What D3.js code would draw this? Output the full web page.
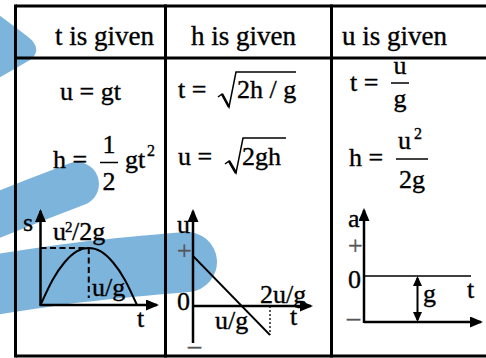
<!DOCTYPE html>
<html>
<head>
<meta charset="utf-8">
<script src="https://cdn.jsdelivr.net/npm/d3@7"></script>
<style>
  body { margin: 0; background: #fff; }
  svg { display: block; }
</style>
</head>
<body>
<svg id="chart"></svg>
<script>
//================ DATA =========================================
const headers = ['t is given', 'h is given', 'u is given'];

// s-t curve : t in units of u/g, s in units of u^2/2g
const sTimes  = [0, 0.25, 0.5, 0.75, 1, 1.25, 1.5, 1.75, 2];
const sValues = [0, 0.44, 0.75, 0.94, 1, 0.94, 0.75, 0.44, 0];

// u-t line as sketched (t in u/g, u in units of u)
const uTimes  = [0, 1.54];
const uValues = [1, -0.58];

// a-t : reference level and the constant -g level
const aLevels = [0, -1];

//================ LAYOUT =======================================
const width = 486, height = 358;
const colX = [15.5, 165.5, 331.5, 492];
const rowY = [6, 58, 356];
const blue = '#7db4dc';
const serif = 'Liberation Serif';

const svg = d3.select('#chart').attr('width', width).attr('height', height);
svg.append('rect').attr('width', width).attr('height', height).attr('fill', '#fff');

//-------- arrow markers --------
const defs = svg.append('defs');
function marker(id, len, w) {
  defs.append('marker')
      .attr('id', id)
      .attr('markerUnits', 'userSpaceOnUse')
      .attr('markerWidth', len).attr('markerHeight', w)
      .attr('refX', len - 2).attr('refY', w / 2)
      .attr('orient', 'auto-start-reverse')
    .append('path')
      .attr('d', `M0,0L${len},${w / 2}L0,${w}Z`)
      .attr('fill', '#000');
}
marker('arrow', 13, 11);
marker('small', 10, 9);

//-------- blue highlighter strokes (behind everything) --------
const hl = svg.append('g');
hl.append('path')
    .attr('d', 'M-5,12 L27,36 Q44,49 30,60 L-5,80 Z')
    .attr('fill', blue);
hl.append('path')
    .attr('d', d3.line().curve(d3.curveBasis)([[-15, 220], [30, 202], [77, 184]]))
    .attr('fill', 'none').attr('stroke', blue)
    .attr('stroke-width', 44).attr('stroke-linecap', 'round');
hl.append('path')
    .attr('d', d3.line().curve(d3.curveBasis)([[-25, 288], [80, 271], [187, 262]]))
    .attr('fill', 'none').attr('stroke', blue)
    .attr('stroke-width', 60).attr('stroke-linecap', 'round');

//-------- table grid --------
const grid = svg.append('g').attr('stroke', '#000').attr('stroke-width', 3);
grid.append('line').attr('x1', colX[0]).attr('x2', width).attr('y1', rowY[0]).attr('y2', rowY[0]);
grid.append('line').attr('x1', colX[0]).attr('x2', width).attr('y1', rowY[1]).attr('y2', rowY[1]);
grid.append('line').attr('x1', colX[0]).attr('x2', width).attr('y1', rowY[2]).attr('y2', rowY[2]);
colX.slice(0, 3).forEach(x =>
  grid.append('line').attr('x1', x).attr('x2', x).attr('y1', rowY[0] - 1.5).attr('y2', rowY[2] + 1.5));

//-------- text helpers --------
function txt(x, y, s, size = 26, anchor = 'start', fill = '#000') {
  return svg.append('text').attr('x', x).attr('y', y)
      .attr('font-family', serif)
      .attr('font-size', size).attr('text-anchor', anchor)
      .attr('fill', fill).attr('stroke', fill).attr('stroke-width', 0.35)
      .text(s);
}
function bar(x1, x2, y, w = 1.5) {
  svg.append('line').attr('x1', x1).attr('x2', x2).attr('y1', y).attr('y2', y)
      .attr('stroke', '#000').attr('stroke-width', w);
}
function radical(x, yMid, yBot, yTop, xEnd) {
  svg.append('path')
      .attr('d', `M${x},${yMid + 2}L${x + 4},${yMid - 1}L${x + 11},${yBot}L${x + 18},${yTop}L${xEnd},${yTop}`)
      .attr('fill', 'none').attr('stroke', '#000').attr('stroke-width', 1.5);
  svg.append('line').attr('x1', x + 4).attr('y1', yMid - 1).attr('x2', x + 11).attr('y2', yBot)
      .attr('stroke', '#000').attr('stroke-width', 2.6);
}

// headers
const headX = [55, 191, 342];
headers.forEach((h, i) => txt(headX[i], 45, h, 27));

//-------- column 1 : t is given --------
txt(60, 100, 'u = gt');
txt(53, 168, 'h =');
txt(109, 153, '1', 26, 'middle');
bar(100, 118, 162.5);
txt(109, 190, '2', 26, 'middle');
txt(125, 168, 'gt');
txt(147, 156, '2', 16);

//-------- column 2 : h is given --------
txt(178, 98, 't =');
radical(218, 95, 107, 72, 296);
txt(237, 98, '2h / g');
txt(178, 165, 'u =');
radical(225, 162, 173, 138, 286);
txt(242, 165, '2gh');

//-------- column 3 : u is given --------
txt(350, 91, 't =');
txt(400, 74, 'u', 26, 'middle');
bar(391, 409, 83);
txt(400, 107, 'g', 26, 'middle');
txt(349, 166, 'h =');
txt(398, 149, 'u');
txt(414, 139, '2', 16);
bar(396, 428, 159);
txt(412, 188, '2g', 26, 'middle');

//================ GRAPH 1 : s-t =================================
const x1 = d3.scaleLinear().domain([0, 2]).range([40.5, 137]);
const y1 = d3.scaleLinear().domain([0, 1]).range([305, 248]);
const g1 = svg.append('g').attr('stroke', '#000').attr('fill', 'none');
g1.append('line').attr('x1', x1(0)).attr('y1', y1(0) + 1).attr('x2', x1(0)).attr('y2', 211)
    .attr('stroke-width', 2.5).attr('marker-end', 'url(#arrow)');
g1.append('line').attr('x1', x1(0)).attr('y1', y1(0)).attr('x2', 157).attr('y2', y1(0))
    .attr('stroke-width', 2.5).attr('marker-end', 'url(#arrow)');
g1.append('path')
    .attr('d', d3.line().x(d => x1(d[0])).y(d => y1(d[1])).curve(d3.curveNatural)(d3.zip(sTimes, sValues)))
    .attr('stroke-width', 2);
const peak = d3.greatestIndex(sValues);
g1.append('line').attr('x1', x1(0)).attr('x2', x1(sTimes[peak])).attr('y1', y1(sValues[peak])).attr('y2', y1(sValues[peak]))
    .attr('stroke-width', 2).attr('stroke-dasharray', '6,3.5');
g1.append('line').attr('x1', x1(sTimes[peak])).attr('x2', x1(sTimes[peak])).attr('y1', y1(sValues[peak])).attr('y2', 298)
    .attr('stroke-width', 2).attr('stroke-dasharray', '6,3.5');
txt(23, 231, 's');
txt(53, 240, 'u');
txt(65, 232, '2', 15);
txt(72, 240, '/2g');
txt(92, 296, 'u/g');
txt(137, 327, 't');

//================ GRAPH 2 : u-t =================================
const x2 = d3.scaleLinear().domain([0, 1]).range([193, 243]);
const y2 = d3.scaleLinear().domain([0, 1]).range([306, 256]);
const g2 = svg.append('g').attr('stroke', '#000').attr('fill', 'none');
g2.append('line').attr('x1', x2(0)).attr('y1', 343).attr('x2', x2(0)).attr('y2', 211)
    .attr('stroke-width', 2.5).attr('marker-end', 'url(#arrow)');
g2.append('line').attr('x1', x2(0)).attr('y1', y2(0)).attr('x2', 311).attr('y2', y2(0))
    .attr('stroke-width', 2.5).attr('marker-end', 'url(#arrow)');
g2.append('path')
    .attr('d', d3.line().x(d => x2(d[0])).y(d => y2(d[1]))(d3.zip(uTimes, uValues)))
    .attr('stroke-width', 1.8);
g2.append('line').attr('x1', x2(uTimes[1])).attr('x2', x2(uTimes[1])).attr('y1', y2(0)).attr('y2', y2(uValues[1]))
    .attr('stroke-width', 1.3).attr('stroke-dasharray', '2,2');
txt(177, 233, 'u');
txt(177, 259, '+', 26, 'start', '#555');
txt(177, 310, '0');
txt(188, 354, '–', 26, 'start', '#555');
txt(260, 303, '2u/g');
txt(215, 329, 'u/g');
txt(290, 325, 't');

//================ GRAPH 3 : a-t =================================
const x3 = d3.scaleLinear().domain([0, 1]).range([364, 471]);
const y3 = d3.scaleLinear().domain([-1, 0]).range([322, 276]);
const g3 = svg.append('g').attr('stroke', '#000').attr('fill', 'none');
g3.append('line').attr('x1', x3(0)).attr('y1', y3(aLevels[1]) + 1).attr('x2', x3(0)).attr('y2', 210)
    .attr('stroke-width', 2.5).attr('marker-end', 'url(#arrow)');
g3.append('line').attr('x1', x3(0)).attr('x2', x3(1)).attr('y1', y3(aLevels[0])).attr('y2', y3(aLevels[0]))
    .attr('stroke-width', 1.5);
g3.append('line').attr('x1', x3(0)).attr('x2', 481).attr('y1', y3(aLevels[1])).attr('y2', y3(aLevels[1]))
    .attr('stroke-width', 2.5).attr('marker-end', 'url(#arrow)');
g3.append('line').attr('x1', x3(0.5)).attr('x2', x3(0.5)).attr('y1', y3(aLevels[0]) + 2).attr('y2', y3(aLevels[1]) - 2)
    .attr('stroke-width', 2).attr('marker-start', 'url(#small)').attr('marker-end', 'url(#small)');
txt(348, 227, 'a');
txt(348, 254, '+', 26, 'start', '#555');
txt(348, 288, '0');
txt(347, 326, '–', 26, 'start', '#555');
txt(467, 298, 't');
txt(423, 302, 'g');
</script>
</body>
</html>
